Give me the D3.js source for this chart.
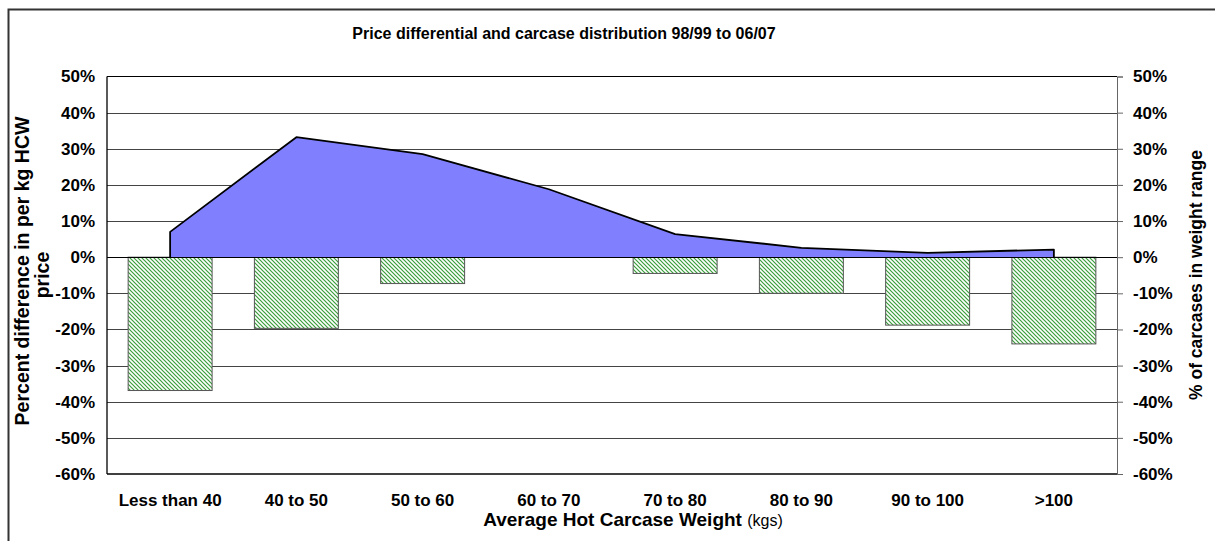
<!DOCTYPE html>
<html>
<head>
<meta charset="utf-8">
<script src="https://cdn.jsdelivr.net/npm/d3@7"></script>
<style>
  html, body { margin: 0; padding: 0; background: #fff; }
  svg { display: block; font-family: "Liberation Sans", Arial, sans-serif; }
</style>
</head>
<body>
<svg id="chart" width="1215" height="541"></svg>
<script>
const categories = ["Less than 40", "40 to 50", "50 to 60", "60 to 70", "70 to 80", "80 to 90", "90 to 100", ">100"];
const priceDiff = [-36.9, -19.7, -7.3, 0, -4.5, -10.0, -18.8, -24.0];
const carcaseShare = [7.0, 33.2, 28.5, 18.8, 6.4, 2.6, 1.2, 2.1];
const tickValues = [50, 40, 30, 20, 10, 0, -10, -20, -30, -40, -50, -60];

const svg = d3.select("#chart");
const m = { left: 107, right: 1117, top: 76.5, bottom: 474 };

// outer border
svg.append("rect").attr("x", 8.5).attr("y", 9.5).attr("width", 1300).attr("height", 700)
  .attr("fill", "none").attr("stroke", "#333").attr("stroke-width", 2);

const defs = svg.append("defs");
const pat = defs.append("pattern").attr("id", "hatch").attr("patternUnits", "userSpaceOnUse")
  .attr("width", 4).attr("height", 4);
pat.append("rect").attr("width", 4).attr("height", 4).attr("fill", "#fff");
pat.append("path").attr("d", "M-1,-1 L5,5 M3,-1 L5,1 M-1,3 L1,5")
  .attr("stroke", "#3a9e3a").attr("stroke-width", 1.2);

const x = d3.scaleBand().domain(categories).range([m.left, m.right]).paddingInner(0.335).paddingOuter(0.1675);
const yL = d3.scaleLinear().domain([-60, 50]).range([m.bottom, m.top]);
const yR = d3.scaleLinear().domain([-60, 50]).range([m.bottom, m.top]);

// gridlines
svg.append("g").selectAll("line").data(tickValues.filter(v => v !== 50 && v !== -60 && v !== 0)).join("line")
  .attr("x1", m.left).attr("x2", m.right)
  .attr("y1", d => Math.round(yL(d)) + 0.5).attr("y2", d => Math.round(yL(d)) + 0.5)
  .attr("stroke", "#444").attr("stroke-width", 1);

// bars (left axis)
svg.append("g").selectAll("rect").data(categories.map((c, i) => ({ c, v: priceDiff[i] })).filter(d => d.v !== 0)).join("rect")
  .attr("x", d => x(d.c)).attr("width", x.bandwidth())
  .attr("y", d => yL(Math.max(0, d.v))).attr("height", d => Math.abs(yL(d.v) - yL(0)))
  .attr("fill", "url(#hatch)").attr("stroke", "#555").attr("stroke-width", 1);

// area (right axis)
const pts = categories.map((c, i) => ({ c, v: carcaseShare[i] }));
const area = d3.area().x(d => x(d.c) + x.bandwidth() / 2).y0(yR(0)).y1(d => yR(d.v));
svg.append("path").datum(pts).attr("d", area).attr("fill", "#8080ff").attr("stroke", "none");
const first = pts[0], last = pts[pts.length - 1];
const outline = d3.line().x(d => d[0]).y(d => d[1]);
const linePts = [[x(first.c) + x.bandwidth() / 2, yR(0)]]
  .concat(pts.map(d => [x(d.c) + x.bandwidth() / 2, yR(d.v)]))
  .concat([[x(last.c) + x.bandwidth() / 2, yR(0)]]);
svg.append("path").attr("d", outline(linePts)).attr("fill", "none").attr("stroke", "#000")
  .attr("stroke-width", 1.8).attr("stroke-linejoin", "round");

// zero line
svg.append("line").attr("x1", m.left).attr("x2", m.right).attr("y1", Math.round(yL(0)) + 0.5).attr("y2", Math.round(yL(0)) + 0.5)
  .attr("stroke", "#000").attr("stroke-width", 1.2);

// plot frame
svg.append("line").attr("x1", m.left).attr("x2", m.right).attr("y1", m.top).attr("y2", m.top).attr("stroke", "#000");
svg.append("line").attr("x1", m.left).attr("x2", m.right).attr("y1", m.bottom).attr("y2", m.bottom).attr("stroke", "#000").attr("stroke-width", 1.3);
svg.append("line").attr("x1", m.left).attr("x2", m.left).attr("y1", m.top).attr("y2", m.bottom).attr("stroke", "#000").attr("stroke-width", 1.3);

// left axis
const fmt = d => d + "%";
const axL = svg.append("g").attr("transform", `translate(${m.left},0)`)
  .call(d3.axisLeft(yL).tickValues(tickValues).tickFormat(fmt).tickSize(0).tickPadding(12));
axL.select(".domain").remove();
axL.selectAll("text").attr("font-size", 17).attr("font-weight", "bold").attr("fill", "#000")
  .attr("font-family", "Liberation Sans, Arial, sans-serif");

// right axis
const axR = svg.append("g").attr("transform", `translate(${m.right},0)`)
  .call(d3.axisRight(yR).tickValues(tickValues).tickFormat(fmt).tickSize(6).tickPadding(10));
axR.select(".domain").attr("stroke", "#666");
axR.selectAll(".tick line").attr("stroke", "#666");
axR.selectAll("text").attr("font-size", 17).attr("font-weight", "bold").attr("fill", "#000")
  .attr("font-family", "Liberation Sans, Arial, sans-serif");

// x axis labels
const axB = svg.append("g").attr("transform", `translate(0,${m.bottom})`)
  .call(d3.axisBottom(x).tickSize(0).tickPadding(20));
axB.select(".domain").remove();
axB.selectAll("text").attr("font-size", 17).attr("font-weight", "bold").attr("fill", "#000")
  .attr("font-family", "Liberation Sans, Arial, sans-serif");

// titles
svg.append("text").attr("x", 564).attr("y", 39).attr("text-anchor", "middle")
  .attr("font-size", 16).attr("font-weight", "bold").text("Price differential and carcase distribution 98/99 to 06/07");

const xt = svg.append("text").attr("x", 633).attr("y", 526).attr("text-anchor", "middle");
xt.append("tspan").attr("font-size", 19).attr("font-weight", "bold").text("Average Hot Carcase Weight ");
xt.append("tspan").attr("font-size", 16).text("(kgs)");

svg.append("text").attr("transform", "translate(29,271) rotate(-90)").attr("text-anchor", "middle")
  .attr("font-size", 19.5).attr("font-weight", "bold").text("Percent difference in per kg HCW");
svg.append("text").attr("transform", "translate(49,275) rotate(-90)").attr("text-anchor", "middle")
  .attr("font-size", 19.5).attr("font-weight", "bold").text("price");

svg.append("text").attr("transform", "translate(1202,275) rotate(-90)").attr("text-anchor", "middle")
  .attr("font-size", 17.5).attr("font-weight", "bold").text("% of carcases in weight range");
</script>
</body>
</html>
